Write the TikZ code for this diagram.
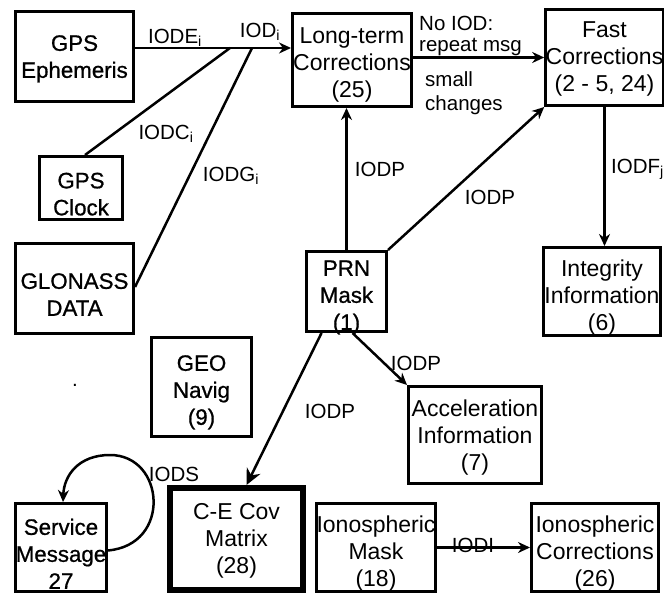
\documentclass[tikz,border=0pt]{standalone}
\usepackage{fontspec}
\setmainfont{Liberation Sans}
\newfontfamily\heavyfont[FakeBold=0.8]{Liberation Sans}
\usetikzlibrary{arrows.meta}
\newcommand\bt[2]{\raisebox{\dimexpr-5.6pt-#1pt\relax}[0pt][0pt]{\begin{tabular}{@{}c@{}}#2\end{tabular}}}
\tikzset{
  box/.style n args={2}{draw, line width=3pt, align=center, inner sep=0pt,
     minimum width=#1pt, minimum height=#2pt,
     font=\fontsize{23}{27}\selectfont},
  hbox/.style n args={2}{box={#1}{#2}, font=\fontsize{22.3}{27}\heavyfont},
  lab/.style={font=\fontsize{20.5}{23}\selectfont, inner sep=0pt},
  conn/.style={line width=2.5pt},
  arr/.style={conn, -{Stealth[length=12pt,width=11pt]}},
}
\begin{document}
\begin{tikzpicture}[x=1pt,y=-1pt]
\useasboundingbox (0,0) rectangle (664,596);
% boxes
\node[hbox={118}{90}] (eph) at (74.5,56.5) {\bt{2}{GPS\\Ephemeris}};
\node[box={119}{93}] (lt) at (352,60) {\bt{6}{Long-term\\Corrections\\(25)}};
\node[box={112}{96}] (fast) at (604.5,57.5) {\bt{2.5}{Fast\\Corrections\\(2 - 5, 24)}};
\node[hbox={83}{63}] (clk) at (81,188) {\bt{8}{GPS\\Clock}};
\node[hbox={118}{90}] (glo) at (74.5,288.5) {\bt{8}{GLONASS\\DATA}};
\node[hbox={80}{80}] (prn) at (346.5,291.5) {\bt{5.5}{PRN\\Mask\\(1)}};
\node[box={117}{88}] (integ) at (602,291.5) {\bt{7.5}{Integrity\\Information\\(6)}};
\node[hbox={100}{99}] (geo) at (201.5,387) {\bt{5}{GEO\\Navig\\(9)}};
\node[hbox={87}{88}] (svc) at (61,547.5) {\bt{8.5}{Service\\Message\\27}};
\node[box={133}{102}, line width=6pt] (ce) at (236.5,539) {\bt{3}{C-E Cov\\Matrix\\(28)}};
\node[box={133}{97}] (acc) at (475,435) {\bt{4}{Acceleration\\Information\\(7)}};
\node[box={115}{88}] (imask) at (376,547.5) {\bt{7.5}{Ionospheric\\Mask\\(18)}};
\node[box={127}{88}] (icor) at (595,547.5) {\bt{7.5}{Ionospheric\\Corrections\\(26)}};
\node[lab] (dot) at (75,385) {.};
% junctions
\coordinate (j1) at (230,48);
\coordinate (j2) at (252,48);
% connectors
\draw[arr] ([yshift=8.5pt]eph.east) -- ([yshift=12pt]lt.west);
\draw[conn] ([xshift=4pt]clk.north) -- (j1);
\draw[conn] ([yshift=1.5pt]glo.east) -- (j2);
\draw[arr] (lt.east |- fast.west) -- (fast.west);
\draw[arr] (prn.north) -- (prn.north |- lt.south);
\draw[arr] (prn.north east) -- (fast.south west);
\draw[arr] (fast.south) -- (fast.south |- integ.north);
\draw[conn, -{Stealth[length=16pt,width=15pt]}] ([xshift=-25pt]prn.south) -- ([xshift=10pt]ce.north);
\draw[arr] ([xshift=6pt]prn.south) -- (acc.north west);
\draw[arr] ([yshift=-3pt]svc.east) .. controls (172,545) and (165,455) .. (110,455)
   .. controls (78,455) and (64,476) .. ([xshift=2pt]svc.north);
\draw[arr] (imask.east) -- (icor.west);
% labels
\node[lab] (lE) at (175,38) {IODE\textsubscript{i}};
\node[lab] (lI) at (260,32) {IOD\textsubscript{i}};
\node[lab] (lC) at (166,134) {IODC\textsubscript{i}};
\node[lab] (lG) at (231,176) {IODG\textsubscript{i}};
\node[lab, align=left, anchor=north west, font=\fontsize{20.5}{21}\selectfont] (lno) at (419,16) {No IOD:\\repeat msg};
\node[lab, align=left, anchor=north west, font=\fontsize{20.5}{24}\selectfont] (lsm) at (425,71) {small\\changes};
\node[lab] (lp1) at (380,169) {IODP};
\node[lab] (lp2) at (490,197) {IODP};
\node[lab, anchor=west] (lF) at (611,169) {IODF\textsubscript{j}};
\node[lab] (lp3) at (330,411) {IODP};
\node[lab] (lp4) at (416,363) {IODP};
\node[lab] (lS) at (174,474) {IODS};
\node[lab] (lD) at (473,545) {IODI};
\end{tikzpicture}
\end{document}
